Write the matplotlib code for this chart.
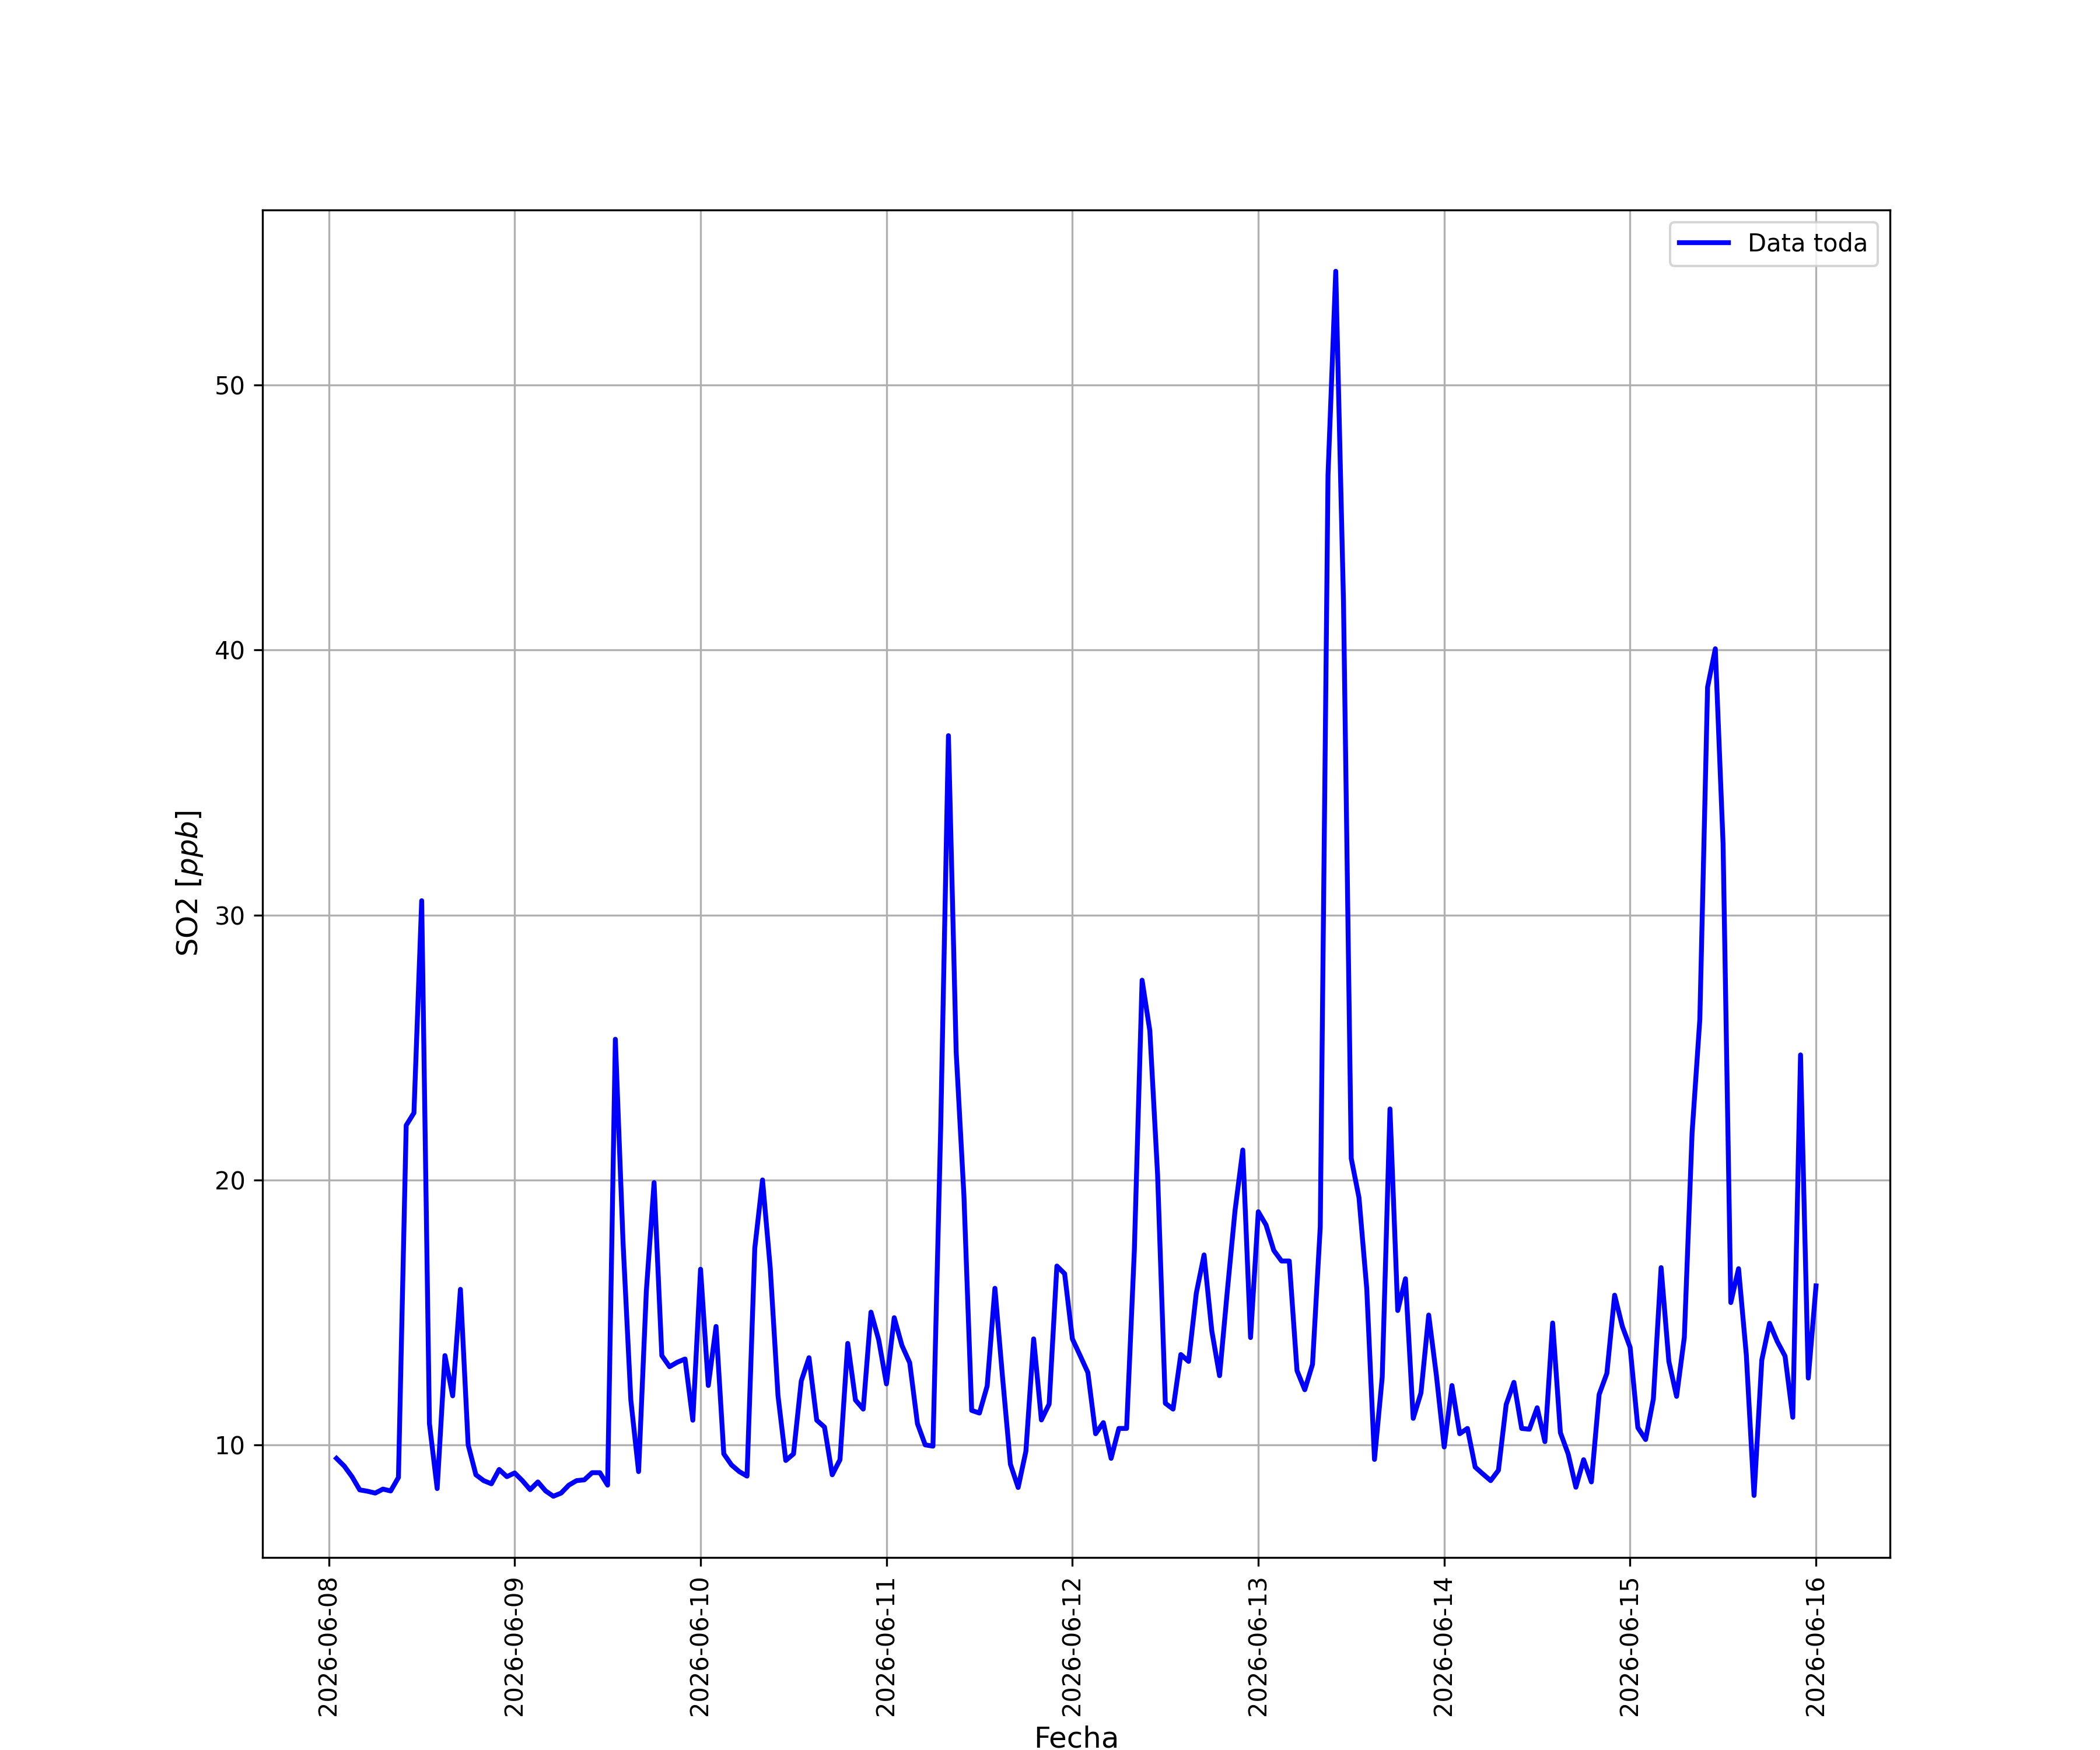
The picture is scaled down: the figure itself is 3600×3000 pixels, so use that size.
import numpy as np
import pandas as pd
import matplotlib
matplotlib.use("Agg")
import matplotlib.pyplot as plt
import matplotlib.dates as mdates

# hourly SO2 readings, 2026-06-08 01:00 .. 2026-06-16 00:00
start = "2026-06-08 01:00"
so2_d08 = [9.49, 9.2, 8.8, 8.3, 8.25, 8.18, 8.33, 8.26, 8.77, 22.06, 22.53, 30.54,
           10.8, 8.35, 13.37, 11.85, 15.87, 10.0, 8.87, 8.65, 8.53, 9.07, 8.8]
so2_d09 = [8.94, 8.65, 8.31, 8.6, 8.26, 8.06, 8.18, 8.48, 8.65, 8.68, 8.95, 8.95,
           8.48, 25.31, 17.6, 11.69, 8.99, 15.8, 19.9, 13.37, 12.95, 13.12, 13.24, 10.93]
so2_d10 = [16.63, 12.24, 14.47, 9.66, 9.24, 8.99, 8.82, 17.42, 20.0, 16.66, 11.85, 9.41,
           9.66, 12.41, 13.29, 10.93, 10.67, 8.87, 9.44, 13.83, 11.69, 11.35, 15.01, 13.96]
so2_d11 = [12.3, 14.8, 13.75, 13.1, 10.8, 10.0, 9.95, 21.97, 36.77, 24.82, 19.41, 11.3,
           11.2, 12.22, 15.91, 12.5, 9.27, 8.39, 9.76, 14.0, 10.94, 11.54, 16.75, 16.46]
so2_d12 = [14.0, 13.37, 12.73, 10.42, 10.84, 9.49, 10.62, 10.62, 17.34, 27.54, 25.63, 20.2,
           11.57, 11.35, 13.41, 13.15, 15.73, 17.17, 14.3, 12.61, 15.8, 18.85, 21.13, 14.05]
so2_d13 = [18.8, 18.3, 17.34, 16.94, 16.94, 12.8, 12.08, 13.04, 18.23, 46.6, 54.3, 41.8,
           20.81, 19.33, 15.9, 9.45, 12.56, 22.68, 15.07, 16.27, 11.0, 11.96, 14.9, 12.6]
so2_d14 = [9.92, 12.24, 10.42, 10.62, 9.16, 8.9, 8.65, 9.04, 11.52, 12.36, 10.62, 10.59,
           11.4, 10.12, 14.6, 10.46, 9.66, 8.4, 9.44, 8.6, 11.9, 12.7, 15.65, 14.47]
so2_d15 = [13.68, 10.65, 10.2, 11.73, 16.69, 13.15, 11.83, 14.06, 21.77, 26.06, 38.6, 40.05,
           32.7, 15.37, 16.65, 13.4, 8.09, 13.2, 14.59, 13.9, 13.35, 11.04, 24.72, 12.52]
so2_d16 = [16.0]

so2 = (so2_d08 + so2_d09 + so2_d10 + so2_d11 + so2_d12 +
       so2_d13 + so2_d14 + so2_d15 + so2_d16)
fechas = pd.date_range(start, periods=len(so2), freq="h")

fig, ax = plt.subplots(figsize=(12, 10), dpi=300)
ax.plot(fechas, so2, color="blue", lw=2, label="Data toda")

ax.xaxis.set_major_locator(mdates.DayLocator())
ax.xaxis.set_major_formatter(mdates.DateFormatter("%Y-%m-%d"))
plt.xticks(rotation=90)

ax.set_xlabel("Fecha", fontsize=12)
ax.set_ylabel("SO2 [$ppb$]", fontsize=12)
ax.grid(True)
ax.legend()

fig.savefig("out.png", dpi=300)
